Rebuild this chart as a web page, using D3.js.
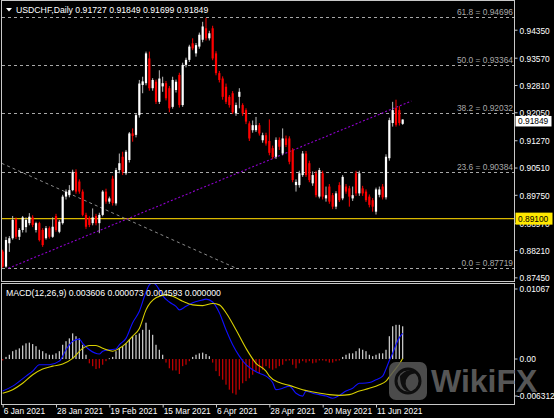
<!DOCTYPE html>
<html>
<head>
<meta charset="utf-8">
<script src="https://cdnjs.cloudflare.com/ajax/libs/d3/7.8.5/d3.min.js"></script>
<style>
  body { margin: 0; background: #000; }
  svg { display: block; }
  text { font-family: "Liberation Sans", Arial, sans-serif; }
</style>
</head>
<body>
<svg width="554" height="418"></svg>
<script>
// daily bars, 6 Jan 2021 .. 23 Jun 2021
var opens = [0.8817,0.8775,0.8840,0.8854,0.8907,0.8858,0.8877,0.8885,0.8896,0.8912,
  0.8877,0.8896,0.8877,0.8854,0.8882,0.8858,0.8916,0.8872,0.8896,0.8970,
  0.8974,0.8988,0.9039,0.9012,0.8984,0.8919,0.8910,0.8896,0.8916,0.8896,
  0.8919,0.8984,0.8956,0.9020,0.8951,0.9044,0.9081,0.9035,0.9072,0.9146,
  0.9142,0.9197,0.9281,0.9286,0.9355,0.9272,0.9290,0.9234,0.9277,0.9286,
  0.9272,0.9220,0.9267,0.9309,0.9225,0.9337,0.9351,0.9397,0.9369,0.9388,
  0.9407,0.9439,0.9411,0.9439,0.9369,0.9314,0.9299,0.9276,0.9248,0.9258,
  0.9202,0.9248,0.9225,0.9211,0.9174,0.9155,0.9155,0.9169,0.9127,0.9141,
  0.9125,0.9105,0.9081,0.9128,0.9090,0.9132,0.9132,0.9100,0.9002,0.9002,
  0.9030,0.9090,0.9063,0.9007,0.9035,0.8970,0.9035,0.8965,0.8998,0.8974,
  0.8942,0.9002,0.8965,0.8998,0.8993,0.8965,0.9035,0.8979,0.8993,0.8984,
  0.8970,0.8960,0.8928,0.8975,0.8998,0.8968,0.9077,0.9175,0.9217,0.9211,0.91727];
var highs = [0.8822,0.8858,0.8860,0.8916,0.8912,0.8882,0.8916,0.8912,0.8924,0.8918,
  0.8900,0.8900,0.8882,0.8888,0.8887,0.8912,0.8922,0.8905,0.8975,0.8990,
  0.9002,0.9045,0.9046,0.9018,0.8990,0.8925,0.8915,0.8937,0.8922,0.8925,
  0.8988,0.8992,0.8970,0.9028,0.9050,0.9090,0.9095,0.9100,0.9150,0.9160,
  0.9203,0.9295,0.9304,0.9374,0.9374,0.9300,0.9296,0.9322,0.9304,0.9292,
  0.9278,0.9304,0.9296,0.9315,0.9343,0.9357,0.9393,0.9411,0.9398,0.9427,
  0.9457,0.9468,0.9432,0.9446,0.9375,0.9320,0.9305,0.9285,0.9253,0.9264,
  0.9232,0.9272,0.9230,0.9216,0.9180,0.9182,0.9192,0.9175,0.9148,0.9148,
  0.9185,0.9112,0.9135,0.9135,0.9160,0.9140,0.9138,0.9105,0.9018,0.9042,
  0.9097,0.9097,0.9070,0.9040,0.9042,0.9050,0.9042,0.8998,0.9005,0.8980,
  0.8985,0.9010,0.9030,0.9005,0.9000,0.8998,0.9042,0.9042,0.9000,0.8990,
  0.8976,0.8966,0.8995,0.8998,0.9005,0.9088,0.9190,0.9234,0.9240,0.9222,0.91849];
var lows = [0.87719,0.8772,0.8816,0.8850,0.8852,0.8849,0.8870,0.8870,0.8890,0.8885,
  0.8870,0.8845,0.8830,0.8850,0.8853,0.8855,0.8872,0.8868,0.8892,0.8962,
  0.8968,0.8985,0.8978,0.8978,0.8915,0.8880,0.8885,0.8890,0.8890,0.8868,
  0.8915,0.8950,0.8950,0.8945,0.8945,0.9035,0.9030,0.9030,0.9065,0.9123,
  0.9135,0.9190,0.9258,0.9280,0.9265,0.9265,0.9228,0.9228,0.9262,0.9238,
  0.9205,0.9215,0.9260,0.9218,0.9220,0.9330,0.9345,0.9378,0.9360,0.9382,
  0.9400,0.9405,0.9405,0.9350,0.9308,0.9288,0.9240,0.9228,0.9218,0.9200,
  0.9195,0.9216,0.9195,0.9172,0.9125,0.9148,0.9150,0.9140,0.9120,0.9112,
  0.9085,0.9075,0.9075,0.9100,0.9085,0.9108,0.9060,0.9010,0.8984,0.8995,
  0.9025,0.9025,0.9010,0.9000,0.8968,0.8965,0.8962,0.8956,0.8950,0.8935,
  0.8935,0.8955,0.8960,0.8978,0.8942,0.8958,0.8972,0.8972,0.8972,0.8955,
  0.8940,0.8928,0.8920,0.8968,0.8962,0.8962,0.9070,0.9165,0.9165,0.9168,0.91699];
var closes = [0.8775,0.8849,0.8854,0.8905,0.8858,0.8877,0.8912,0.8905,0.8914,0.8891,
  0.8896,0.8849,0.8835,0.8882,0.8858,0.8886,0.8877,0.8900,0.8970,0.8984,
  0.8988,0.9039,0.8984,0.8984,0.8919,0.8886,0.8891,0.8912,0.8896,0.8919,
  0.8984,0.8956,0.8965,0.8952,0.9044,0.9063,0.9039,0.9095,0.9146,0.9139,
  0.9197,0.9285,0.9291,0.9369,0.9272,0.9295,0.9234,0.9299,0.9286,0.9244,
  0.9216,0.9295,0.9290,0.9225,0.9337,0.9351,0.9388,0.9383,0.9392,0.9421,
  0.9444,0.9411,0.9425,0.9355,0.9314,0.9295,0.9248,0.9234,0.9225,0.9205,
  0.9225,0.9262,0.9202,0.9179,0.9132,0.9169,0.9169,0.9146,0.9141,0.9118,
  0.9092,0.9080,0.9128,0.9109,0.9132,0.9114,0.9067,0.9016,0.9011,0.9035,
  0.9090,0.9030,0.9016,0.9030,0.8974,0.9044,0.8970,0.8974,0.8956,0.8942,
  0.8979,0.8960,0.9025,0.8984,0.8970,0.8974,0.8979,0.9035,0.8979,0.8960,
  0.8947,0.8942,0.8990,0.8990,0.8968,0.9081,0.9183,0.9211,0.9170,0.9175,0.91849];

var dateIdx = [0, 16, 32, 48, 64, 80, 96, 112];
var dateLabels = ["6 Jan 2021","28 Jan 2021","19 Feb 2021","15 Mar 2021","6 Apr 2021","28 Apr 2021","20 May 2021","11 Jun 2021"];
var priceTicks = [0.94350,0.93570,0.92810,0.92050,0.91270,0.90510,0.89750,0.88970,0.88210,0.87450];

var fibNames = ["61.8","50.0","38.2","23.6","0.0"];
var fibPrices = [0.94696,0.93364,0.92032,0.90384,0.87719];
var hLinePrice = 0.89100;
var lastPrice = 0.91849;
// trendlines as [bar index, price]
var purpleLine = [[1.7, 0.87702], [122.6, 0.92364]];
var grayLine = [[-0.3, 0.90628], [69.7, 0.87719]];

// MACD histogram, one value per bar
var macdHist = [-0.0002,0.0003,0.0006,0.0011,0.0013,0.0015,0.0019,0.0022,0.0023,0.0021,
  0.0018,0.0013,0.0011,0.0008,0.0006,0.0006,0.0008,0.0011,0.0020,0.0025,
  0.0029,0.0036,0.0032,0.0029,0.0020,0.0006,-0.0006,-0.0010,-0.0014,-0.0013,
  -0.0008,-0.0003,0.0001,0.0003,0.0011,0.0015,0.0018,0.0022,0.0027,0.0032,
  0.0034,0.0036,0.0041,0.0051,0.0041,0.0034,0.0020,0.0013,0.0006,-0.0005,
  -0.0013,-0.0016,-0.0016,-0.0021,-0.0010,-0.0008,-0.0003,0.0003,0.0006,0.0008,
  0.0009,0.0007,0.0004,-0.0005,-0.0017,-0.0024,-0.0029,-0.0036,-0.0043,-0.0048,
  -0.0050,-0.0043,-0.0034,-0.0031,-0.0027,-0.0022,-0.0017,-0.0020,-0.0015,-0.0010,
  -0.0013,-0.0015,-0.0013,-0.0010,-0.0008,-0.0003,-0.0002,-0.0008,-0.0013,-0.0006,
  -0.0003,-0.0005,-0.0003,-0.0006,-0.0005,-0.0002,-0.0002,-0.0003,-0.0005,-0.0005,
  -0.0003,-0.0002,0.0003,0.0006,0.0008,0.0008,0.0011,0.0015,0.0013,0.0011,
  0.0006,0.0004,0.0006,0.0008,0.0008,0.0013,0.0032,0.0046,0.0048,0.0048,0.004593];
// MACD main (blue) and signal (yellow), [bar index, value]
var macdMain = [[0,-0.0045],[3,-0.0038],[7,-0.0024],[9,-0.0017],[11,-0.0008],[14,-0.0008],[17,-0.0003],
  [19,0.0013],[21,0.0025],[23,0.0028],[24,0.0022],[26,0.0013],[29,0.0007],[30,0.0011],[32,0.0013],
  [34,0.0014],[35,0.0020],[37,0.0029],[39,0.0051],[41,0.0067],[43,0.0094],[44,0.0104],[45,0.01067],
  [46,0.0104],[47,0.0097],[48,0.0089],[50,0.0080],[52,0.0074],[53,0.0069],[55,0.0074],[57,0.0079],
  [60,0.0083],[61,0.0084],[63,0.0080],[65,0.0065],[67,0.0041],[69,0.0020],[71,0.0004],[73,-0.0008],
  [75,-0.0015],[77,-0.0020],[79,-0.0024],[81,-0.0033],[82,-0.0043],[84,-0.0041],[86,-0.0038],
  [88,-0.0048],[90,-0.0052],[91,-0.0045],[93,-0.0048],[95,-0.0050],[97,-0.0052],[99,-0.0055],
  [101,-0.0051],[103,-0.0045],[105,-0.0041],[107,-0.0034],[108,-0.0034],[110,-0.0033],[112,-0.0029],
  [114,-0.0024],[115,-0.0014],[116,-0.0002],[117,0.0008],[118,0.0020],[119,0.0030],[120,0.003606]];
var macdSignal = [[0,-0.0048],[3,-0.0043],[6,-0.0034],[9,-0.0022],[12,-0.0014],[15,-0.0010],[18,-0.0007],
  [21,0.0001],[24,0.0015],[26,0.0019],[28,0.0019],[30,0.0015],[33,0.0011],[35,0.0015],[37,0.0022],
  [39,0.0032],[41,0.0043],[43,0.0069],[46,0.0086],[49,0.0090],[51,0.0088],[54,0.0081],[57,0.0076],
  [60,0.0075],[63,0.0078],[65,0.0076],[67,0.0065],[70,0.0041],[73,0.0015],[76,-0.0006],[79,-0.0017],
  [80,-0.0024],[83,-0.0033],[86,-0.0037],[90,-0.0043],[94,-0.0047],[98,-0.0050],[101,-0.0051],
  [104,-0.0050],[107,-0.0045],[110,-0.0041],[113,-0.0036],[115,-0.0031],[116,-0.0025],[118,-0.0013],
  [119,-0.0007],[120,0.000073]];
var macdTicks = [0.01067, 0.00, -0.006312];
var macdTickText = ["0.01067", "0.00", "-0.006312"];

var svg = d3.select("svg");
svg.append("rect").attr("width", 554).attr("height", 418).attr("fill", "#000");

var x = d3.scaleLinear().domain([0, 120]).range([2.67, 402.67]);
var y = d3.scaleLinear().domain([0.87329, 0.95122]).range([281.7, 2]);
var ym = d3.scaleLinear().domain([-0.006312, 0.01067]).range([404, 283]);

var defs = svg.append("defs");
defs.append("clipPath").attr("id", "cmain").append("rect").attr("x", 2).attr("y", 1).attr("width", 512).attr("height", 280);
defs.append("clipPath").attr("id", "cmacd").append("rect").attr("x", 2).attr("y", 284).attr("width", 512).attr("height", 120);

var main = svg.append("g").attr("clip-path", "url(#cmain)");

// fibonacci levels
fibPrices.forEach(function (p, i) {
  main.append("line").attr("x1", 2).attr("x2", 514).attr("y1", Math.round(y(p)) + 0.5).attr("y2", Math.round(y(p)) + 0.5)
    .attr("stroke", "#a8a8a8").attr("stroke-dasharray", "3,3");
  main.append("text").attr("x", 513).attr("y", Math.round(y(p)) - 2).attr("text-anchor", "end")
    .attr("font-size", 8.4).attr("fill", "#a8a8a8").text(fibNames[i] + " = " + p.toFixed(5));
});

// horizontal support line
main.append("line").attr("x1", 2).attr("x2", 514).attr("y1", y(hLinePrice) + 0.5).attr("y2", y(hLinePrice) + 0.5)
  .attr("stroke", "#d9b800").attr("stroke-width", 1.2);

// trendlines
main.append("line").attr("x1", x(grayLine[0][0])).attr("y1", y(grayLine[0][1]))
  .attr("x2", x(grayLine[1][0])).attr("y2", y(grayLine[1][1]))
  .attr("stroke", "#8a8a8a").attr("stroke-dasharray", "3,3");
main.append("line").attr("x1", x(purpleLine[0][0])).attr("y1", y(purpleLine[0][1]))
  .attr("x2", x(purpleLine[1][0])).attr("y2", y(purpleLine[1][1]))
  .attr("stroke", "#9000d0").attr("stroke-width", 1.1).attr("stroke-dasharray", "2,2");

// candles
var bars = d3.range(closes.length);
main.selectAll("line.wick").data(bars).enter().append("line").attr("class", "wick")
  .attr("x1", function (i) { return x(i); }).attr("x2", function (i) { return x(i); })
  .attr("y1", function (i) { return y(highs[i]); }).attr("y2", function (i) { return y(lows[i]); })
  .attr("stroke", function (i) { return closes[i] >= opens[i] ? "#bdbdbd" : "#ff0000"; }).attr("stroke-width", 1);
main.selectAll("rect.body").data(bars).enter().append("rect").attr("class", "body")
  .attr("x", function (i) { return x(i) - 1.1; }).attr("width", 2.2)
  .attr("y", function (i) { return y(Math.max(opens[i], closes[i])); })
  .attr("height", function (i) { return Math.max(1, Math.abs(y(opens[i]) - y(closes[i]))); })
  .attr("fill", function (i) { return closes[i] >= opens[i] ? "#ffffff" : "#ff0000"; });

// MACD pane
var mp = svg.append("g").attr("clip-path", "url(#cmacd)");
mp.selectAll("rect.h").data(bars).enter().append("rect").attr("class", "h")
  .attr("x", function (i) { return x(i) - 0.6; }).attr("width", 1.2)
  .attr("y", function (i) { return Math.min(ym(0), ym(macdHist[i])); })
  .attr("height", function (i) { return Math.max(0.8, Math.abs(ym(macdHist[i]) - ym(0))); })
  .attr("fill", function (i) { return macdHist[i] >= 0 ? "#d4d4d4" : "#c80000"; });
var ln = d3.line().x(function (d) { return x(d[0]); }).y(function (d) { return ym(d[1]); }).curve(d3.curveMonotoneX);
mp.append("path").attr("d", ln(macdMain)).attr("fill", "none").attr("stroke", "#1010ff").attr("stroke-width", 1.1);
mp.append("path").attr("d", ln(macdSignal)).attr("fill", "none").attr("stroke", "#d8d000").attr("stroke-width", 1.1);

// frames
svg.append("rect").attr("x", 1.5).attr("y", 0.5).attr("width", 513).attr("height", 281)
  .attr("fill", "none").attr("stroke", "#c8c8c8");
svg.append("rect").attr("x", 1.5).attr("y", 283.5).attr("width", 513).attr("height", 121)
  .attr("fill", "none").attr("stroke", "#c8c8c8");

// watermark (drawn under the axis texts)
var wm = svg.append("g").attr("opacity", 0.85);
wm.append("rect").attr("x", 389).attr("y", 362).attr("width", 38).attr("height", 38).attr("rx", 7).attr("fill", "#595959");
wm.append("circle").attr("cx", 408).attr("cy", 381).attr("r", 12).attr("fill", "none").attr("stroke", "#111").attr("stroke-width", 3);
wm.append("path").attr("d", "M400,376 Q408,366 418,374 Q410,372 406,380 Q404,388 412,392 Q400,392 400,376 Z").attr("fill", "#111");
wm.append("text").attr("x", 431).attr("y", 391.5).attr("font-size", 32).attr("font-weight", "bold")
  .attr("fill", "#666").text("WikiFX");

// right price axis
var ya = svg.append("g").attr("transform", "translate(514.5,0)")
  .call(d3.axisRight(y).tickValues(priceTicks).tickSize(3).tickFormat(d3.format(".5f")));
ya.select(".domain").remove();
ya.selectAll("line").attr("stroke", "#c8c8c8");
ya.selectAll("text").attr("x", 5).attr("dy", "0.4em").attr("fill", "#fff").attr("font-size", 8.4)
  .attr("font-family", "Liberation Sans, Arial, sans-serif");

// macd axis
macdTicks.forEach(function (v, i) {
  var ty = Math.max(289, Math.min(396, ym(v)));
  svg.append("line").attr("x1", 514.5).attr("x2", 517.5).attr("y1", ty).attr("y2", ty).attr("stroke", "#c8c8c8");
  svg.append("text").attr("x", i == 2 ? 517 : 519.5).attr("y", ty).attr("dy", "0.35em").attr("fill", "#fff")
    .attr("font-size", 8.4).text(macdTickText[i]);
});

// date axis
var xa = svg.append("g").attr("transform", "translate(0,404.5)")
  .call(d3.axisBottom(x).tickValues(dateIdx).tickSize(3).tickFormat(function (d, i) { return dateLabels[i]; }));
xa.select(".domain").remove();
xa.selectAll("line").attr("stroke", "#c8c8c8");
xa.selectAll("text").attr("text-anchor", "start").attr("dx", 0.5).attr("y", 4).attr("fill", "#fff")
  .attr("font-size", 8.4).attr("font-family", "Liberation Sans, Arial, sans-serif");

// price tags
var hy = y(hLinePrice) + 0.5;
svg.append("rect").attr("x", 515.5).attr("y", hy - 6).attr("width", 37).attr("height", 12).attr("fill", "#ffe800");
svg.append("text").attr("x", 518).attr("y", hy).attr("dy", "0.36em").attr("font-size", 8.4).attr("fill", "#000").text(hLinePrice.toFixed(5));
var ly = y(lastPrice) + 1.5;
svg.append("rect").attr("x", 515.5).attr("y", ly - 5).attr("width", 36).attr("height", 10.5).attr("fill", "#fff");
svg.append("text").attr("x", 518).attr("y", ly).attr("dy", "0.36em").attr("font-size", 8.4).attr("fill", "#000").text(lastPrice.toFixed(5));

// titles
svg.append("path").attr("d", "M6,8 L12,8 L9,11.5 Z").attr("fill", "#fff");
svg.append("text").attr("x", 16).attr("y", 12.5).attr("font-size", 8.7).attr("fill", "#fff")
  .text("USDCHF,Daily  0.91727 0.91849 0.91699 0.91849");
svg.append("text").attr("x", 6).attr("y", 296).attr("font-size", 8.7).attr("fill", "#fff")
  .text("MACD(12,26,9) 0.003606 0.000073 0.004593 0.000000");
</script>
</body>
</html>
